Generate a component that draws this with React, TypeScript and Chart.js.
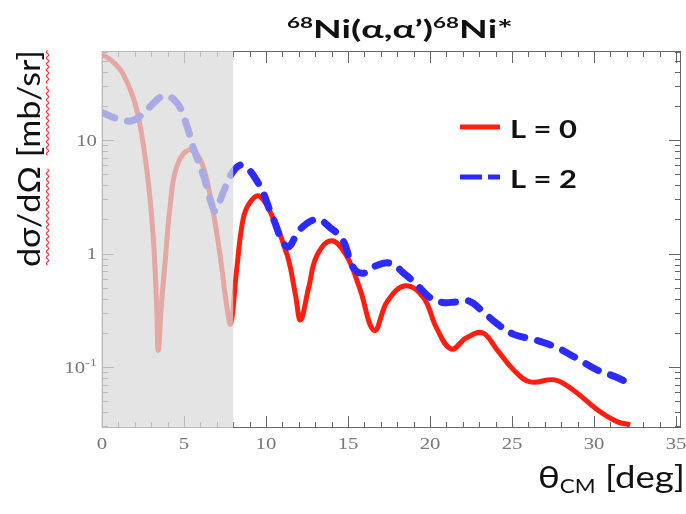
import { useEffect, useRef } from "react";
import { Chart, registerables } from "chart.js";

Chart.register(...registerables);

// 68Ni(α,α')68Ni* angular distributions: θ_CM [deg] vs dσ/dΩ [mb/sr]
const thetaL0 = [0, 0.6, 1.3, 2.1, 2.75, 3.13, 3.33, 3.43, 3.62, 3.85, 4.15, 4.55, 5.3, 6.0, 6.6, 7.2, 7.6, 7.85, 8.2, 8.6, 9.0, 9.6, 10.4, 11.3, 11.8, 12.1, 12.6, 13.1, 14.0, 14.9, 15.7, 16.6, 17.4, 18.5, 19.6, 20.4, 21.3, 22.2, 23.2, 24.1, 25.1, 26.1, 27.6, 28.7, 30.2, 31.4, 32.2];
const sigmaL0 = [57, 50, 38, 19, 5.2, 1.35, 0.35, 0.14, 0.35, 0.85, 2.6, 5.8, 8.2, 6.7, 3.2, 0.96, 0.35, 0.24, 0.7, 2.0, 2.8, 3.2, 2.1, 0.96, 0.43, 0.26, 0.5, 0.96, 1.3, 0.96, 0.5, 0.21, 0.38, 0.52, 0.41, 0.22, 0.144, 0.18, 0.2, 0.141, 0.094, 0.074, 0.077, 0.063, 0.042, 0.033, 0.031];

const thetaL2 = [0, 0.9, 1.9, 2.8, 3.8, 4.6, 5.2, 5.55, 6.2, 6.6, 6.9, 7.4, 8.0, 8.6, 9.6, 10.4, 11.3, 12.1, 13.1, 13.9, 14.7, 15.3, 15.9, 16.7, 17.6, 18.4, 19.2, 20.0, 20.8, 21.6, 22.4, 23.2, 24.1, 25.1, 26.3, 27.7, 29.0, 30.2, 31.3, 32.3];
const sigmaL2 = [17.5, 15.5, 14.9, 19, 24.6, 21, 13, 8.7, 4.8, 3.0, 2.37, 3.5, 5.3, 6.0, 4.0, 2.1, 1.15, 1.65, 2.0, 1.7, 1.3, 0.76, 0.67, 0.78, 0.82, 0.67, 0.53, 0.41, 0.37, 0.375, 0.38, 0.31, 0.24, 0.194, 0.175, 0.149, 0.118, 0.094, 0.082, 0.07];

const seriesLabels = ["L = 0", "L = 2"];
const xMajorTicks = [0, 5, 10, 15, 20, 25, 30, 35];
const xMinorStep = 1;
const yDecadeTicks = [0.1, 1, 10];
const yDecadeLabels = [["10", "-1"], ["1", ""], ["10", ""]];
const shadedRange = [0, 8];

const SANS = "Lato, 'Noto Sans', 'DejaVu Sans', sans-serif";
const SERIF = "'Liberation Serif', 'DejaVu Serif', serif";

type Piece = { text: string; font: string; dy?: number; color?: string };

// Draws a run of text pieces; `width` > 0 fits the run to that width,
// otherwise `stretch` widens it horizontally.
function drawRun(ctx: CanvasRenderingContext2D, pieces: Piece[], x: number, baseline: number, width: number, align: "left" | "center" | "right", stretch = 1) {
  let total = 0;
  for (const p of pieces) {
    ctx.font = p.font;
    total += ctx.measureText(p.text).width;
  }
  const sx = width > 0 ? width / total : stretch;
  const w = total * sx;
  const start = align === "center" ? x - w / 2 : align === "right" ? x - w : x;
  ctx.save();
  ctx.translate(start, baseline);
  ctx.scale(sx, 1);
  ctx.textAlign = "left";
  ctx.textBaseline = "alphabetic";
  let cx = 0;
  for (const p of pieces) {
    ctx.font = p.font;
    ctx.fillStyle = p.color || "#111";
    ctx.fillText(p.text, cx, p.dy || 0);
    cx += ctx.measureText(p.text).width;
  }
  ctx.restore();
}

// wavy underline, like a spell checker's mark
function squiggle(ctx: CanvasRenderingContext2D, x0: number, x1: number, y: number) {
  ctx.beginPath();
  ctx.moveTo(x0, y);
  let up = true;
  for (let x = x0; x + 1.5 <= x1; x += 3) {
    ctx.quadraticCurveTo(x + 1.5, y + (up ? -2.2 : 2.2), x + 3, y);
    up = !up;
  }
  ctx.stroke();
}

const frameAndTicks = {
  id: "frameAndTicks",
  beforeDatasetsDraw(chart: any) {
    const { ctx, chartArea: a, scales } = chart;
    const x = scales.x;
    const y = scales.y;
    ctx.save();
    ctx.strokeStyle = "#666";
    ctx.lineWidth = 1;
    ctx.strokeRect(a.left + 0.5, a.top + 0.5, a.right - a.left - 1, a.bottom - a.top - 1);
    ctx.beginPath();
    const last = xMajorTicks[xMajorTicks.length - 1];
    for (let v = 0; v <= last + 1e-6; v += xMinorStep) {
      const px = Math.round(x.getPixelForValue(v)) + 0.5;
      const len = xMajorTicks.includes(v) ? 12 : 6;
      ctx.moveTo(px, a.bottom);
      ctx.lineTo(px, a.bottom - len);
      ctx.moveTo(px, a.top);
      ctx.lineTo(px, a.top + len);
    }
    for (let d = 0.01; d <= 100; d *= 10) {
      for (let m = 1; m <= 9; m++) {
        const v = m * d;
        if (v < y.min || v > y.max) continue;
        const py = Math.round(y.getPixelForValue(v)) + 0.5;
        const len = m === 1 ? 12 : 6;
        ctx.moveTo(a.left, py);
        ctx.lineTo(a.left + len, py);
        ctx.moveTo(a.right, py);
        ctx.lineTo(a.right - len, py);
      }
    }
    ctx.stroke();
    ctx.restore();
  },
  afterDatasetsDraw(chart: any) {
    const { ctx, chartArea: a, scales } = chart;
    const x0 = scales.x.getPixelForValue(shadedRange[0]);
    const x1 = scales.x.getPixelForValue(shadedRange[1]);
    ctx.save();
    ctx.fillStyle = "rgba(218,218,218,0.73)";
    ctx.fillRect(x0 - 1, a.top, x1 - x0 + 1, a.bottom - a.top);
    ctx.restore();
  },
  afterDraw(chart: any) {
    const { ctx, chartArea: a, scales } = chart;
    const x = scales.x;
    const y = scales.y;
    ctx.save();

    // tick labels
    xMajorTicks.forEach((v) => {
      drawRun(ctx, [{ text: String(v), font: `16px ${SERIF}`, color: "#777" }], x.getPixelForValue(v), a.bottom + 21, 0, "center", 1.3);
    });
    yDecadeTicks.forEach((v, i) => {
      const [base, sup] = yDecadeLabels[i];
      const pieces: Piece[] = [{ text: base, font: `16px ${SERIF}`, color: "#777" }];
      if (sup) pieces.push({ text: sup, font: `11px ${SERIF}`, dy: -7, color: "#777" });
      drawRun(ctx, pieces, a.left - 5, y.getPixelForValue(v) + 5.5, 0, "right", 1.3);
    });

    // title
    drawRun(
      ctx,
      [
        { text: "68", font: `bold 15px ${SANS}`, dy: -10 },
        { text: "Ni(α,α’)", font: `bold 25px ${SANS}` },
        { text: "68", font: `bold 15px ${SANS}`, dy: -10 },
        { text: "Ni*", font: `bold 25px ${SANS}` },
      ],
      400, 38, 226, "center"
    );

    // x axis title
    drawRun(
      ctx,
      [
        { text: "θ", font: `31px ${SANS}` },
        { text: "CM", font: `19px ${SANS}`, dy: 5 },
        { text: " [deg]", font: `31px ${SANS}` },
      ],
      685, 488, 147, "right"
    );

    // y axis title, rotated, with wavy underlines
    const yTitle = "dσ/dΩ [mb/sr]";
    ctx.font = `31px ${SANS}`;
    const tw = ctx.measureText(yTitle).width;
    const sx = 217 / tw;
    ctx.save();
    ctx.translate(40, 158.5);
    ctx.rotate(-Math.PI / 2);
    ctx.scale(sx, 1);
    ctx.fillStyle = "#111";
    ctx.textAlign = "left";
    ctx.textBaseline = "alphabetic";
    ctx.fillText(yTitle, -tw / 2, 0);
    ctx.restore();
    ctx.save();
    ctx.translate(40, 158.5);
    ctx.rotate(-Math.PI / 2);
    ctx.strokeStyle = "#ff2a2a";
    ctx.lineWidth = 1.1;
    const words = ["dσ/dΩ", " ", "[mb/", "sr]"];
    let off = -tw / 2;
    words.forEach((w) => {
      ctx.font = `31px ${SANS}`;
      const ww = ctx.measureText(w).width;
      if (w.trim()) squiggle(ctx, off * sx + 2, (off + ww) * sx - 2, 7.5);
      off += ww;
    });
    ctx.restore();

    // legend
    const ds = chart.data.datasets;
    const rows = [127, 177];
    seriesLabels.forEach((label, i) => {
      const d = ds[i];
      const ly = rows[i];
      ctx.save();
      ctx.strokeStyle = d.borderColor;
      ctx.lineWidth = 5;
      ctx.lineCap = "butt";
      ctx.setLineDash(i === 0 ? [] : [22, 6]);
      ctx.beginPath();
      ctx.moveTo(460, ly);
      ctx.lineTo(500, ly);
      ctx.stroke();
      ctx.restore();
      drawRun(ctx, [{ text: label, font: `bold 25px ${SANS}` }], 510, ly + 11, 67, "left");
    });
    ctx.restore();
  },
};

export default function App() {
  const ref = useRef<HTMLCanvasElement | null>(null);

  useEffect(() => {
    let chart: Chart | null = null;
    let cancelled = false;
    document.body.style.margin = "0";
    const fontsReady = (document as any).fonts
      ? Promise.all([
          (document as any).fonts.load(`bold 25px Lato`),
          (document as any).fonts.load(`31px Lato`),
          (document as any).fonts.load(`16px "Liberation Serif"`),
        ]).catch(() => null)
      : Promise.resolve(null);
    fontsReady.then(() => {
      if (cancelled || !ref.current) return;
      chart = new Chart(ref.current, {
        type: "line",
        data: {
          datasets: [
            {
              label: seriesLabels[0],
              data: thetaL0.map((t, i) => ({ x: t, y: sigmaL0[i] })),
              borderColor: "#ff1e0f",
              borderWidth: 5,
              pointRadius: 0,
              tension: 0.4,
              fill: false,
              order: 1,
            },
            {
              label: seriesLabels[1],
              data: thetaL2.map((t, i) => ({ x: t, y: sigmaL2[i] })),
              borderColor: "#2b2bff",
              borderWidth: 7,
              borderDash: [14, 13],
              borderCapStyle: "round",
              pointRadius: 0,
              tension: 0.4,
              fill: false,
              order: 0,
            },
          ],
        },
        options: {
          animation: false,
          responsive: false,
          devicePixelRatio: 1,
          events: [],
          layout: { padding: { left: 102, right: 5, top: 51, bottom: 86 } },
          plugins: {
            legend: { display: false },
            title: { display: false },
            tooltip: { enabled: false },
          },
          scales: {
            x: { type: "linear", min: 0, max: 35.3, display: false },
            y: { type: "logarithmic", min: 0.029, max: 61, display: false },
          },
        } as any,
        plugins: [frameAndTicks],
      });
    });
    return () => {
      cancelled = true;
      if (chart) chart.destroy();
    };
  }, []);

  return (
    <div style={{ position: "absolute", left: 0, top: 0, width: 686, height: 514, background: "#fff" }}>
      <canvas ref={ref} width={686} height={514} style={{ display: "block" }} />
    </div>
  );
}
